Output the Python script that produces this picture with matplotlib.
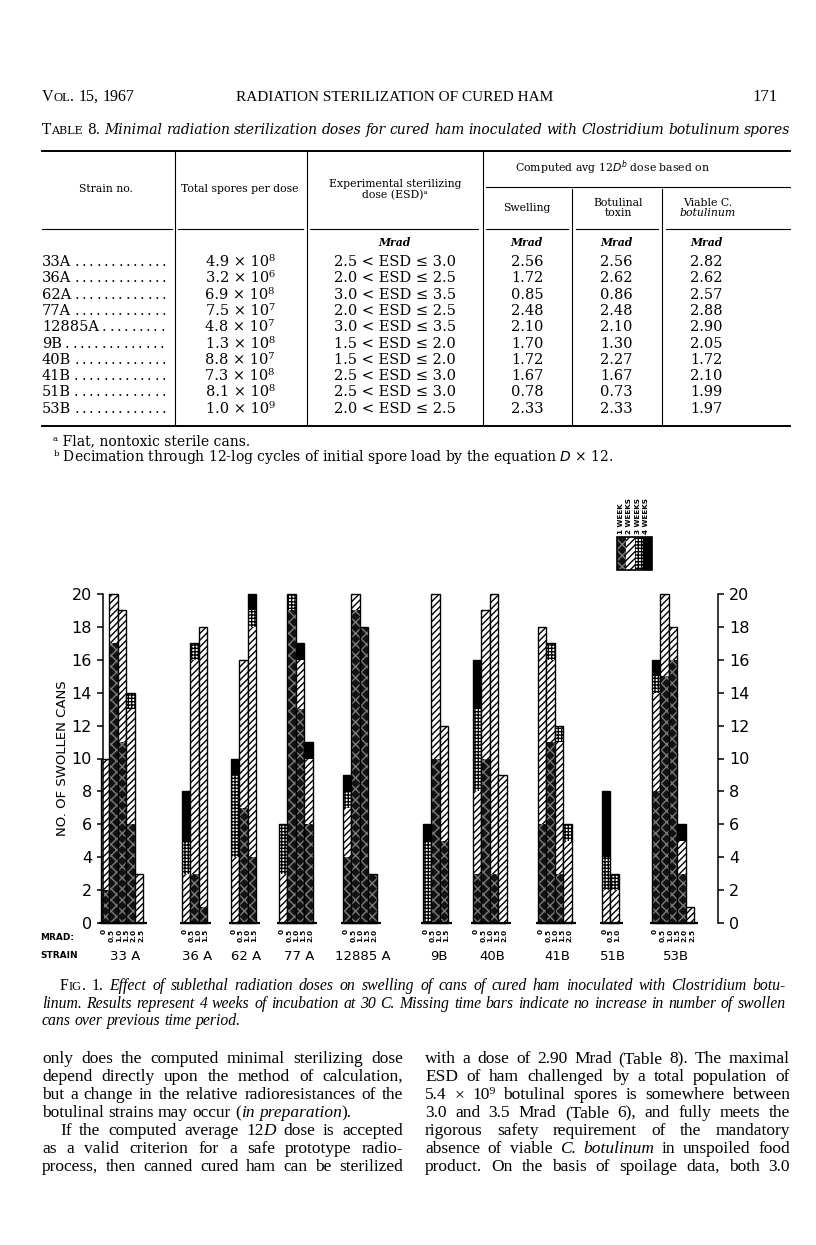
import matplotlib
matplotlib.use('Agg')
import matplotlib.pyplot as plt
from matplotlib.font_manager import FontProperties

W, H = 816, 1245

# ---- Table 8 data ----
table_strains = ['33A', '36A', '62A', '77A', '12885A', '9B', '40B', '41B', '51B', '53B']
spores = ['4.9 × 10⁸', '3.2 × 10⁶', '6.9 × 10⁸', '7.5 × 10⁷', '4.8 × 10⁷',
          '1.3 × 10⁸', '8.8 × 10⁷', '7.3 × 10⁸', '8.1 × 10⁸', '1.0 × 10⁹']
esd_low = ['2.5', '2.0', '3.0', '2.0', '3.0', '1.5', '1.5', '2.5', '2.5', '2.0']
esd_high = ['3.0', '2.5', '3.5', '2.5', '3.5', '2.0', '2.0', '3.0', '3.0', '2.5']
swelling = ['2.56', '1.72', '0.85', '2.48', '2.10', '1.70', '1.72', '1.67', '0.78', '2.33']
toxin = ['2.56', '2.62', '0.86', '2.48', '2.10', '1.30', '2.27', '1.67', '0.73', '2.33']
viable = ['2.82', '2.62', '2.57', '2.88', '2.90', '2.05', '1.72', '2.10', '1.99', '1.97']

# ---- Fig. 1 data: swollen cans added in each week, per dose ----
strains = ['33 A', '36 A', '62 A', '77 A', '12885 A', '9B', '40B', '41B', '51B', '53B']
doses = [
    ['0', '0.5', '1.0', '1.5', '2.0', '2.5'],
    ['0', '0.5', '1.0', '1.5'],
    ['0', '0.5', '1.0', '1.5'],
    ['0', '0.5', '1.0', '1.5', '2.0'],
    ['0', '0.5', '1.0', '1.5', '2.0'],
    ['0', '0.5', '1.0', '1.5'],
    ['0', '0.5', '1.0', '1.5', '2.0'],
    ['0', '0.5', '1.0', '1.5', '2.0'],
    ['0', '0.5', '1.0'],
    ['0', '0.5', '1.0', '1.5', '2.0', '2.5'],
]
week1 = [[2, 17, 11, 6, 0, 0], [0, 3, 1, 0], [0, 7, 4, 0], [0, 19, 13, 6, 0],
         [4, 19, 18, 3, 0], [0, 10, 5, 0], [3, 10, 3, 0, 0], [6, 11, 3, 0, 0],
         [0, 0, 0], [8, 15, 16, 3, 0, 0]]
week2 = [[8, 3, 8, 7, 3, 0], [3, 13, 17, 0], [4, 9, 14, 0], [3, 0, 3, 4, 0],
         [3, 1, 0, 0, 0], [0, 10, 7, 0], [5, 9, 17, 9, 0], [12, 5, 8, 5, 0],
         [2, 2, 0], [6, 5, 2, 2, 1, 0]]
week3 = [[0, 0, 0, 1, 0, 0], [2, 1, 0, 0], [5, 0, 1, 0], [3, 1, 0, 0, 0],
         [1, 0, 0, 0, 0], [5, 0, 0, 0], [5, 0, 0, 0, 0], [0, 1, 1, 1, 0],
         [2, 1, 0], [1, 0, 0, 0, 0, 0]]
week4 = [[0, 0, 0, 0, 0, 0], [3, 0, 0, 0], [1, 0, 1, 0], [0, 0, 1, 1, 0],
         [1, 0, 0, 0, 0], [1, 0, 0, 0], [3, 0, 0, 0, 0], [0, 0, 0, 0, 0],
         [4, 0, 0], [1, 0, 0, 1, 0, 0]]
week_labels = ['1 WEEK', '2 WEEKS', '3 WEEKS', '4 WEEKS']

caption = [
    'F#IG#. 1. *Effect of sublethal radiation doses on swelling of cans of cured ham inoculated with Clostridium botu-*',
    '*linum. Results represent 4 weeks of incubation at 30 C. Missing time bars indicate no increase in number of swollen*',
    '*cans over previous time period.*',
]
left_col = [
    'only does the computed minimal sterilizing dose',
    'depend directly upon the method of calculation,',
    'but a change in the relative radioresistances of the',
    'botulinal strains may occur (*in preparation*).',
    'If the computed average 12*D* dose is accepted',
    'as a valid criterion for a safe prototype radio-',
    'process, then canned cured ham can be sterilized',
]
right_col = [
    'with a dose of 2.90 Mrad (Table 8). The maximal',
    'ESD of ham challenged by a total population of',
    '5.4 × 10⁹ botulinal spores is somewhere between',
    '3.0 and 3.5 Mrad (Table 6), and fully meets the',
    'rigorous safety requirement of the mandatory',
    'absence of viable *C. botulinum* in unspoiled food',
    'product. On the basis of spoilage data, both 3.0',
]

plt.rcParams['hatch.linewidth'] = 1.0
SERIF = ['Liberation Serif', 'DejaVu Serif']
CENT = ['DejaVu Serif']
SANS = ['DejaVu Sans']

fig = plt.figure(figsize=(W / 100, H / 100), dpi=100)
bg = fig.add_axes([0, 0, 1, 1])
bg.set_xlim(0, W)
bg.set_ylim(H, 0)
bg.axis('off')
renderer = fig.canvas.get_renderer()


def parse(line):
    # '*' toggles italic, '#' toggles small caps
    words, cur, seg = [], [], ''
    italic = small = False
    for ch in line:
        if ch in '*#':
            if seg:
                cur.append((seg, italic, small))
                seg = ''
            if ch == '*':
                italic = not italic
            else:
                small = not small
        elif ch == ' ':
            if seg:
                cur.append((seg, italic, small))
                seg = ''
            if cur:
                words.append(cur)
                cur = []
        else:
            seg += ch
    if seg:
        cur.append((seg, italic, small))
    if cur:
        words.append(cur)
    return words


def fprop(family, size, italic, small):
    return FontProperties(family=family, style='italic' if italic else 'normal',
                          size=size * (0.8 if small else 1.0))


def width(s, fp):
    return renderer.get_text_width_height_descent(s, fp, ismath=False)[0]


def justify(x0, x1, y, line, size, family, last=False):
    words = parse(line)
    ws = [sum(width(s, fprop(family, size, i, sm)) for s, i, sm in w) for w in words]
    if last or len(words) < 2:
        gap = width('a b', fprop(family, size, False, False)) - width('ab', fprop(family, size, False, False))
    else:
        gap = (x1 - x0 - sum(ws)) / (len(words) - 1)
    x = x0
    for w, ww in zip(words, ws):
        xx = x
        for s, i, sm in w:
            fp = fprop(family, size, i, sm)
            bg.text(xx, y, s, fontproperties=fp, ha='left', va='baseline')
            xx += width(s, fp)
        x += ww + gap


# ---- running head ----
justify(42, 200, 101, 'V#OL#. 15, 1967', 11.5, SERIF, last=True)
bg.text(395, 101, 'RADIATION STERILIZATION OF CURED HAM', fontsize=11,
        family=SERIF, ha='center', va='baseline')
bg.text(778, 101, '171', fontsize=12, family=SERIF, ha='right', va='baseline')

# ---- table ----
justify(42, 790, 134, 'T#ABLE# 8. *Minimal radiation sterilization doses for cured ham inoculated with Clostridium botulinum spores*',
        10.0, CENT)
bg.plot([42, 790], [151, 151], color='black', lw=1.4)
bg.plot([42, 790], [426, 426], color='black', lw=1.4)
bg.plot([486, 790], [187, 187], color='black', lw=0.8)
for a, b in [(42, 172), (178, 303), (310, 478), (486, 568), (576, 658), (666, 790)]:
    bg.plot([a, b], [229, 229], color='black', lw=0.8)
for x in [175, 307, 483]:
    bg.plot([x, x], [152, 425], color='black', lw=0.8)
for x in [572, 662]:
    bg.plot([x, x], [189, 425], color='black', lw=0.8)

hs = 7.8
bg.text(106, 189, 'Strain no.', fontsize=hs, family=CENT, ha='center', va='center')
bg.text(240, 189, 'Total spores per dose', fontsize=hs, family=CENT, ha='center', va='center')
bg.text(395, 184, 'Experimental sterilizing', fontsize=hs, family=CENT, ha='center', va='center')
bg.text(395, 195, 'dose (ESD)ᵃ', fontsize=hs, family=CENT, ha='center', va='center')
bg.text(613, 168, 'Computed avg 12$\\it{D}^b$ dose based on', fontsize=hs, family=CENT,
        ha='center', va='center')
bg.text(527, 208, 'Swelling', fontsize=hs, family=CENT, ha='center', va='center')
bg.text(618, 203, 'Botulinal', fontsize=hs, family=CENT, ha='center', va='center')
bg.text(618, 213, 'toxin', fontsize=hs, family=CENT, ha='center', va='center')
bg.text(708, 203, 'Viable C.', fontsize=hs, family=CENT, ha='center', va='center')
bg.text(708, 213, 'botulinum', fontsize=hs, family=CENT, style='italic', ha='center', va='center')
for x in [395, 527, 617, 707]:
    bg.text(x, 242, 'Mrad', fontsize=hs, family=CENT, style='italic', weight='bold',
            ha='center', va='center')

row_fp = FontProperties(family=CENT, size=10.5)
for r in range(len(table_strains)):
    y = 262 + r * 16.3
    bg.text(42, y, table_strains[r], fontproperties=row_fp, ha='left', va='center')
    xd = 42 + width(table_strains[r], row_fp) + 3
    while xd < 166:
        bg.text(xd, y, '.', fontproperties=row_fp, ha='left', va='center')
        xd += 7.3
    bg.text(240, y, spores[r], fontproperties=row_fp, ha='center', va='center')
    bg.text(395, y, f'{esd_low[r]} < ESD ≤ {esd_high[r]}', fontproperties=row_fp,
            ha='center', va='center')
    bg.text(527, y, swelling[r], fontproperties=row_fp, ha='center', va='center')
    bg.text(616, y, toxin[r], fontproperties=row_fp, ha='center', va='center')
    bg.text(706, y, viable[r], fontproperties=row_fp, ha='center', va='center')

bg.text(53, 441, 'ᵃ Flat, nontoxic sterile cans.', fontsize=10, family=CENT, ha='left', va='center')
bg.text(53, 457, 'ᵇ Decimation through 12-log cycles of initial spore load by the equation $\\it{D}$ × 12.',
        fontsize=10, family=CENT, ha='left', va='center')

# ---- Fig. 1 ----
Y0, Y20 = 923, 594
ax = fig.add_axes([103 / W, 1 - Y0 / H, (718 - 103) / W, (Y0 - Y20) / H])
ax.patch.set_alpha(0)
ax.set_xlim(103, 718)
ax.set_ylim(0, 20)
for s in ['top', 'bottom']:
    ax.spines[s].set_visible(False)
for s in ['left', 'right']:
    ax.spines[s].set_bounds(0, 20)
    ax.spines[s].set_linewidth(1.1)
ax.set_xticks([])
ax.set_yticks(range(0, 21, 2))
ax.tick_params(axis='y', left=True, right=True, labelleft=True, labelright=True,
               direction='out', length=4, width=1.1, labelsize=11.5, pad=4)
for lab in ax.get_yticklabels():
    lab.set_family(SANS)

styles = [
    dict(fc='#121212', hatch='xxx', hc='#7a7a7a'),
    dict(fc='white', hatch='/////', hc='black'),
    dict(fc='white', hatch='+++++', hc='black'),
    dict(fc='black', hatch=None, hc=None),
]

group_start = [101, 182, 231, 279, 343, 423, 473, 538, 602, 652]
pitch = 8.4


def seg(a, x, bottom, h, wdt, st):
    a.bar(x, h, wdt, bottom, align='edge', color=st['fc'], edgecolor='none',
          lw=0, clip_on=False)
    if st['hatch']:
        a.bar(x, h, wdt, bottom, align='edge', fill=False, hatch=st['hatch'],
              edgecolor=st['hc'], lw=0, clip_on=False)


weeks = [week1, week2, week3, week4]
for g, name in enumerate(strains):
    x0 = group_start[g]
    nb = len(week1[g])
    nbars = 0
    for b in range(nb):
        vals = [wk[g][b] for wk in weeks]
        total = sum(vals)
        if total == 0:
            continue
        nbars = b + 1
        x = x0 + b * pitch
        bottom = 0
        for v, st in zip(vals, styles):
            if v:
                seg(ax, x, bottom, v, pitch, st)
                bottom += v
        ax.bar(x, total, pitch, align='edge', fill=False, edgecolor='black',
               lw=1.0, clip_on=False)
    x_end = x0 + nbars * pitch
    ax.plot([x0 - 2, x_end + 4], [0, 0], color='black', lw=1.6, clip_on=False,
            solid_capstyle='butt')
    nd = len(doses[g])
    for k, d in enumerate(doses[g]):
        xl = x0 + 3 + k * (x_end - 2 - (x0 + 3)) / (nd - 1)
        ax.text(xl, -0.35, d, rotation=90, ha='center', va='top', fontsize=5.3,
                weight='bold', family=SANS)
    bg.text((x0 + x_end) / 2 + 3, 956, name, fontsize=9.5, family=SANS,
            ha='center', va='center')

bg.text(40, 938, 'MRAD:', fontsize=6.5, weight='bold', family=SANS, ha='left', va='center')
bg.text(40, 956, 'STRAIN', fontsize=6.5, weight='bold', family=SANS, ha='left', va='center')
bg.text(62, 758, 'NO. OF SWOLLEN CANS', rotation=90, fontsize=9.5, family=SANS,
        ha='center', va='center')

# legend
leg = fig.add_axes([617 / W, 1 - 570 / H, 35 / W, 33 / H])
leg.set_xlim(0, 4)
leg.set_ylim(0, 1)
leg.axis('off')
for k, st in enumerate(styles):
    seg(leg, k, 0, 1, 1, st)
    bg.text(621 + k * 8.3, 534, week_labels[k], rotation=90, fontsize=5.2,
            weight='bold', family=SANS, ha='center', va='bottom')
leg.bar(0, 1, 4, align='edge', fill=False, edgecolor='black', lw=1.2, clip_on=False)

# ---- caption and body text ----
justify(60, 786, 990, caption[0], 11.3, SERIF)
justify(42, 786, 1008, caption[1], 11.3, SERIF)
justify(42, 786, 1025, caption[2], 11.3, SERIF, last=True)

for i, line in enumerate(left_col):
    x0 = 60 if i == 4 else 42
    justify(x0, 403, 1063 + i * 18, line, 12.5, SERIF, last=(i == 3))
for i, line in enumerate(right_col):
    justify(425, 790, 1063 + i * 18, line, 12.5, SERIF)

fig.savefig('out.png', dpi=100)
